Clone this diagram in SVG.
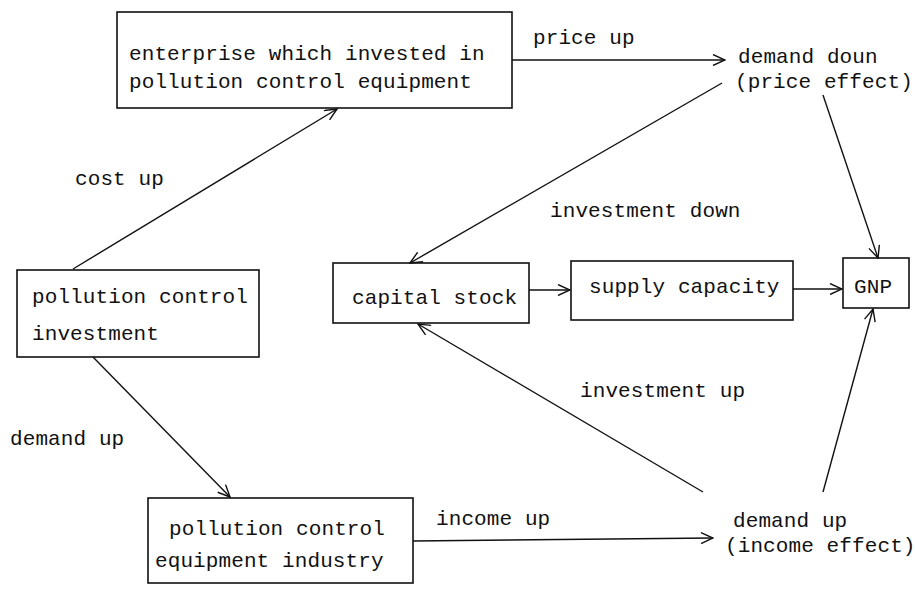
<svg xmlns="http://www.w3.org/2000/svg" width="915" height="592" viewBox="0 0 915 592">
<style>
.box{fill:none;stroke:#111;stroke-width:1.6}
.t{font-family:"Liberation Mono","DejaVu Sans Mono",monospace;font-size:21px;letter-spacing:0.1px;fill:#111}
.c{fill:none;stroke:#111;stroke-width:1.4}
</style>
<defs>
<marker id="arr" viewBox="0 0 14 12" refX="13" refY="6" markerWidth="14" markerHeight="12" markerUnits="userSpaceOnUse" orient="auto">
<path d="M1,0.5 L13,6 L1,11.5" fill="none" stroke="#111" stroke-width="1.4"/>
</marker>
</defs>
<rect width="915" height="592" fill="#fff"/>
<g id="enterprise">
<rect class="box" x="117" y="12" width="395" height="96"/>
<text class="t" x="129" y="60">enterprise which invested in</text>
<text class="t" x="129" y="88">pollution control equipment</text>
</g>
<g id="pc-investment">
<rect class="box" x="17" y="270" width="242" height="87"/>
<text class="t" x="32" y="303">pollution control</text>
<text class="t" x="32" y="340">investment</text>
</g>
<g id="pc-industry">
<rect class="box" x="148" y="498" width="265" height="85"/>
<text class="t" x="169" y="535">pollution control</text>
<text class="t" x="155" y="567">equipment industry</text>
</g>
<g id="capital-stock">
<rect class="box" x="333" y="263" width="196" height="60"/>
<text class="t" x="352" y="304">capital stock</text>
</g>
<g id="supply-capacity">
<rect class="box" x="571" y="261" width="222" height="59"/>
<text class="t" x="589" y="293">supply capacity</text>
</g>
<g id="gnp">
<rect class="box" x="843" y="258" width="66" height="50"/>
<text class="t" x="854" y="293">GNP</text>
</g>
<g id="demand-down">
<text class="t" x="738" y="63">demand doun</text>
<text class="t" x="735" y="88">(price effect)</text>
</g>
<g id="demand-up">
<text class="t" x="733" y="527">demand up</text>
<text class="t" x="725" y="552">(income effect)</text>
</g>
<g id="connectors">
<line class="c" x1="512" y1="60" x2="725" y2="60" marker-end="url(#arr)"/>
<line class="c" x1="73" y1="269" x2="337" y2="109" marker-end="url(#arr)"/>
<line class="c" x1="93" y1="357" x2="230" y2="497" marker-end="url(#arr)"/>
<line class="c" x1="722" y1="83" x2="410" y2="263" marker-end="url(#arr)"/>
<line class="c" x1="823" y1="95" x2="878" y2="258" marker-end="url(#arr)"/>
<line class="c" x1="529" y1="290" x2="570" y2="290" marker-end="url(#arr)"/>
<line class="c" x1="793" y1="289" x2="842" y2="289" marker-end="url(#arr)"/>
<line class="c" x1="413" y1="541" x2="713" y2="538" marker-end="url(#arr)"/>
<line class="c" x1="703" y1="492" x2="418" y2="324" marker-end="url(#arr)"/>
<line class="c" x1="823" y1="492" x2="873" y2="309" marker-end="url(#arr)"/>
</g>
<g id="labels">
<text class="t" x="533" y="44">price up</text>
<text class="t" x="75" y="185">cost up</text>
<text class="t" x="550" y="217">investment down</text>
<text class="t" x="580" y="397">investment up</text>
<text class="t" x="10" y="445">demand up</text>
<text class="t" x="436" y="525">income up</text>
</g>
</svg>
